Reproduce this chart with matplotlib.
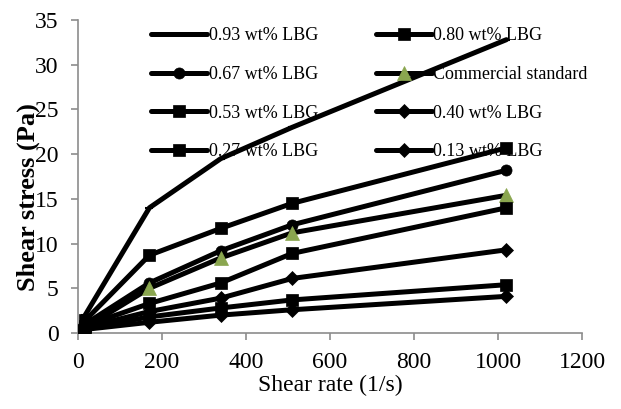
import matplotlib
matplotlib.use("Agg")
import matplotlib.pyplot as plt

shear_rate = [1.7, 17, 170, 340, 510, 1020]
labels = ["0.93 wt% LBG", "0.80 wt% LBG", "0.67 wt% LBG", "Commercial standard",
          "0.53 wt% LBG", "0.40 wt% LBG", "0.27 wt% LBG", "0.13 wt% LBG"]
stress_093 = [0.5, 2.0, 14.0, 19.5, 23.0, 32.8]
stress_080 = [0.3, 1.4, 8.7, 11.7, 14.5, 20.7]
stress_067 = [0.2, 1.0, 5.6, 9.2, 12.1, 18.2]
stress_com = [0.0, 0.6, 5.0, 8.4, 11.2, 15.4]
stress_053 = [0.2, 0.8, 3.3, 5.6, 8.9, 14.0]
stress_040 = [0.1, 0.6, 2.4, 3.9, 6.1, 9.3]
stress_027 = [0.1, 0.5, 1.8, 2.8, 3.7, 5.4]
stress_013 = [0.1, 0.4, 1.2, 2.0, 2.6, 4.1]
series = [stress_093, stress_080, stress_067, stress_com,
          stress_053, stress_040, stress_027, stress_013]
markers = ["_", "s", "o", "^", "s", "D", "s", "D"]
msizes = [6, 8, 8, 10, 8, 7, 9, 7]
mfc = ["black", "black", "black", "#8aa64f", "black", "black", "black", "black"]
mec = ["black", "black", "black", "#8aa64f", "black", "black", "black", "black"]

plt.rcParams['font.family'] = ['Liberation Serif', 'DejaVu Serif']

fig = plt.figure(figsize=(6.21, 4.09), dpi=100)
ax = fig.add_axes([78/621, 1-333/409, (582-78)/621, (333-20)/409])

handles = []
for i, ys in enumerate(series):
    h, = ax.plot(shear_rate, ys, color="black", lw=3.6, marker=markers[i],
                 markersize=msizes[i], markerfacecolor=mfc[i], markeredgecolor=mec[i],
                 markeredgewidth=1.5 if markers[i] == "_" else 0.5,
                 label=labels[i], zorder=2+i, solid_capstyle="round")
    handles.append(h)

ax.set_xlim(0, 1200)
ax.set_ylim(0, 35)
ax.set_xticks(range(0, 1201, 200))
ax.set_yticks(range(0, 36, 5))
for s in ["top", "right"]:
    ax.spines[s].set_visible(False)
for s in ["left", "bottom"]:
    ax.spines[s].set_color("#8c8c8c")
    ax.spines[s].set_linewidth(1.2)
ax.tick_params(axis="both", colors="#8c8c8c", labelcolor="black", labelsize=17,
               length=5, width=1.2, direction="out", pad=9)
ax.set_xlabel("Shear rate (1/s)", fontsize=17)
ax.xaxis.set_label_coords(0.5, -0.135)
ax.set_ylabel("Shear stress (Pa)", fontsize=19, fontweight="bold")
ax.yaxis.set_label_coords(-0.075, 0.435)

order = [0, 2, 4, 6, 1, 3, 5, 7]
leg = ax.legend([handles[i] for i in order], [labels[i] for i in order],
                ncol=2, loc="upper left", bbox_to_anchor=(0.13, 1.0),
                frameon=False, fontsize=13, handlelength=3.1, handletextpad=0.1,
                columnspacing=3.2, labelspacing=1.2, borderaxespad=0)
leg.set_zorder(20)

fig.savefig("out.png", dpi=100)
